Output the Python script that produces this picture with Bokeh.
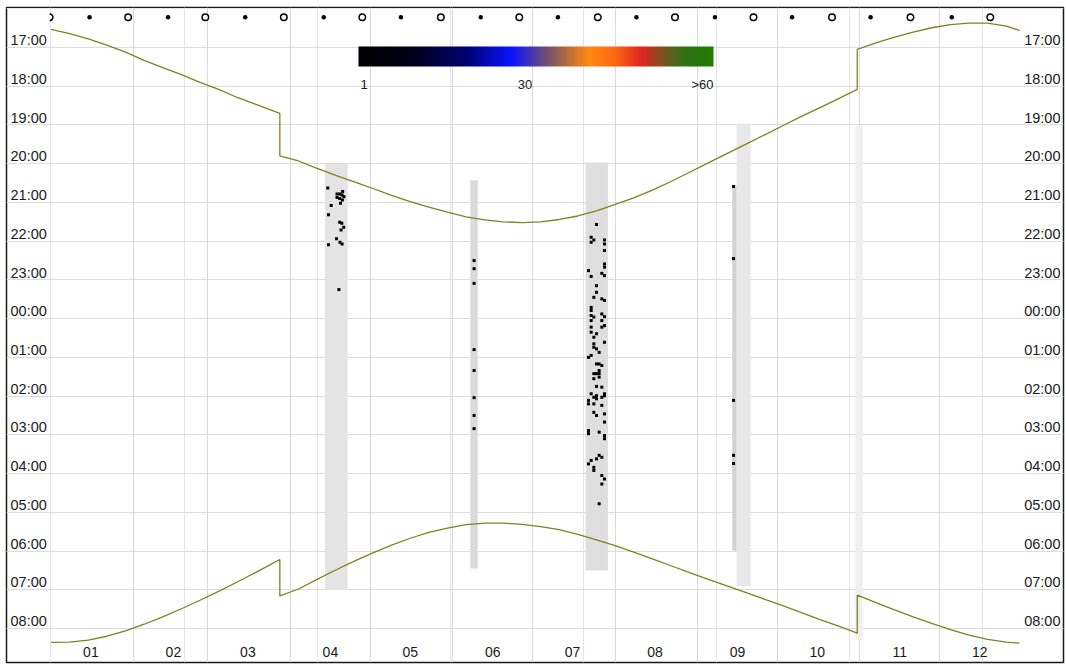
import numpy as np
from bokeh.plotting import figure
from bokeh.models import Range1d, ColorBar, LinearColorMapper, FixedTicker, Grid
from bokeh.core.properties import value
from bokeh.embed import file_html
from bokeh.resources import INLINE

# ---------------- data ----------------
# time axis: 17 = 17:00, 24 = 00:00, 32 = 08:00 (next morning)
hour_ticks = list(range(17, 33))
hour_labels = ["17:00", "18:00", "19:00", "20:00", "21:00", "22:00", "23:00", "00:00",
               "01:00", "02:00", "03:00", "04:00", "05:00", "06:00", "07:00", "08:00"]

month_labels = ["01", "02", "03", "04", "05", "06", "07", "08", "09", "10", "11", "12"]
month_start_days = [0, 31, 59, 90, 120, 151, 181, 212, 243, 273, 304, 334]

# sunset (evening) curve, day of year vs local clock time (DST jumps at day 86 and 303)
sunset_day = [0, 7, 14, 21, 28, 35, 42, 49, 56, 63, 70, 77, 86,
              86, 93, 100, 107, 114, 121, 128, 135, 142, 149, 156, 163, 170, 177, 184, 191,
              198, 205, 212, 219, 226, 233, 240, 247, 254, 261, 268, 275, 282, 289, 296, 303,
              303, 310, 317, 324, 331, 338, 345, 352, 359, 364]
sunset_t = [16.53, 16.64, 16.78, 16.94, 17.12, 17.33, 17.52, 17.70, 17.90, 18.08, 18.29, 18.47, 18.70,
            19.80, 19.93, 20.12, 20.30, 20.47, 20.64, 20.82, 20.98, 21.12, 21.25, 21.37, 21.45,
            21.50, 21.52, 21.50, 21.44, 21.35, 21.22, 21.05, 20.88, 20.68, 20.46, 20.22, 19.98,
            19.74, 19.50, 19.26, 19.02, 18.78, 18.55, 18.32, 18.08,
            17.05, 16.88, 16.73, 16.60, 16.49, 16.41, 16.37, 16.37, 16.45, 16.56]

# sunrise (morning) curve
sunrise_day = [0, 7, 14, 21, 28, 35, 42, 49, 56, 63, 70, 77, 86,
               86, 93, 100, 107, 114, 121, 128, 135, 142, 149, 156, 163, 170, 177, 184, 191,
               198, 205, 212, 219, 226, 233, 240, 247, 254, 261, 268, 275, 282, 289, 296, 303,
               303, 310, 317, 324, 331, 338, 345, 352, 359, 364]
sunrise_t = [32.36, 32.35, 32.30, 32.20, 32.06, 31.89, 31.70, 31.49, 31.27, 31.04, 30.80, 30.55, 30.22,
             31.16, 30.98, 30.73, 30.49, 30.26, 30.05, 29.85, 29.67, 29.52, 29.41, 29.32, 29.28,
             29.28, 29.31, 29.37, 29.45, 29.57, 29.71, 29.86, 30.03, 30.20, 30.38, 30.56, 30.73,
             30.90, 31.07, 31.24, 31.41, 31.59, 31.77, 31.94, 32.12,
             31.14, 31.33, 31.52, 31.70, 31.87, 32.03, 32.17, 32.28, 32.35, 32.38]

# moon phases
new_moon_days = [14.5, 44, 73, 102.5, 131.5, 161.5, 190.5, 220, 249.5, 278.5, 308, 338.5]
full_moon_days = [29, 58, 87.5, 117, 146.5, 176, 205.5, 234.5, 264, 293.5, 323, 353]
partial_moon_days = [-0.5]

# observation windows (grey bands)
obs_left = [103.0, 157.6, 200.9, 257.6, 302.3, 256.0]
obs_right = [111.5, 160.4, 209.3, 262.9, 305.0, 257.6]
obs_start = [20.00, 20.43, 19.97, 18.96, 19.03, 20.56]
obs_end = [31.00, 30.45, 30.50, 30.90, 32.30, 29.99]
obs_color = ["#e4e4e4", "#dadada", "#dedede", "#e8e8e8", "#efefef", "#d2d2d2"]

# detections (day, time)
det_day = [104, 107.5, 108.5, 109.4, 107.5, 108.5, 109.5, 108.8, 105.3, 104.3, 108.5, 109.3,
           110, 109, 107.3, 104.3, 108.6, 109.4, 108.2, 109.6, 110.1,
           159, 159, 159, 159, 159, 159, 159, 159,
           205, 203, 204, 203, 208, 208, 208, 208, 208, 202, 203, 207, 208, 205, 205, 204,
           207, 208, 203, 203, 203, 204, 203, 207, 208, 207, 208, 207, 203, 203, 205, 204,
           204, 204, 205, 206, 208, 203, 202, 205, 206, 207, 204, 205, 206, 206, 206,
           204, 205, 207, 203, 204, 202, 205, 205, 208, 208, 207, 202, 204, 207, 204, 205,
           208, 208, 202, 202, 206, 208, 208, 206, 205, 207, 203, 202, 204, 204, 207, 208,
           207, 206,
           256.5, 256.5, 256.5, 256.5, 256.5]
det_t = [20.63, 20.78, 20.78, 20.81, 20.87, 20.90, 20.94, 21.02, 21.08, 21.32, 21.51, 21.54,
         21.64, 21.71, 21.94, 22.09, 22.03, 22.07, 23.25, 20.72, 20.85,
         22.50, 22.71, 23.09, 24.80, 25.34, 26.04, 26.50, 26.84,
         21.57, 21.90, 21.97, 22.03, 21.97, 22.07, 22.24, 22.59, 22.67, 22.76, 22.91, 22.83,
         22.89, 23.15, 23.32, 23.45, 23.49, 23.53, 23.71, 23.79, 23.92, 23.96, 24.05, 23.88,
         23.95, 24.05, 24.18, 24.22, 24.22, 24.35, 24.39, 24.48, 24.65, 24.74, 24.78, 24.87,
         24.61, 24.95, 25.00, 25.17, 25.17, 25.21, 25.42, 25.42, 25.42, 25.34, 25.51,
         25.55, 25.75, 25.77, 25.94, 26.03, 26.11, 25.99, 26.07, 25.94, 25.99, 26.03, 26.20,
         26.20, 26.24, 26.42, 26.50, 26.46, 26.67, 26.89, 26.97, 26.93, 27.02, 27.10, 27.53,
         27.62, 27.58, 27.66, 27.75, 27.84, 27.92, 28.05, 28.14, 28.27, 28.78,
         20.59, 22.45, 26.11, 27.53, 27.74]

# colour scale for the legend bar
cbar_stops = [0.0, 0.15, 0.30, 0.43, 0.55, 0.65, 0.72, 0.80, 0.87, 0.93, 1.0]
cbar_colors = ["#000000", "#00001a", "#000070", "#0a14ff", "#8a5a5a", "#ff8a10", "#ff6a10",
               "#e02424", "#6a5a20", "#2a7412", "#267c00"]
cbar_low, cbar_high = 0, 64
cbar_ticks = [1, 30, 62]
cbar_tick_labels = {62: ">60"}

# ---------------- figure ----------------
FONT = "Liberation Sans"
x0, x1 = -16.72, 380.5
y_top, y_bot = 15.967, 32.878

p = figure(width=1066, height=666, output_backend="svg", toolbar_location=None,
           x_range=Range1d(x0, x1), y_range=Range1d(y_bot, y_top),
           x_axis_location=None, y_axis_location=None,
           min_border_left=6, min_border_right=3, min_border_top=7, min_border_bottom=4)
p.outline_line_color = "#1a1a1a"
p.outline_line_width = 1.5
p.background_fill_color = "white"
p.border_fill_color = "white"

p.add_layout(Grid(dimension=0, ticker=FixedTicker(ticks=month_start_days[1:]),
                  grid_line_color="#d9d9d9", grid_line_width=1))
p.add_layout(Grid(dimension=1, ticker=FixedTicker(ticks=hour_ticks),
                  grid_line_color="#dcdcdc", grid_line_width=1))

# grey observation bands
p.quad(left=obs_left, right=obs_right, top=obs_start, bottom=obs_end,
       fill_color=obs_color, line_color=None)

# sunrise / sunset
p.line(sunset_day, sunset_t, line_color="#808020", line_width=1.3)
p.line(sunrise_day, sunrise_t, line_color="#808020", line_width=1.3)

# detections
p.scatter(det_day, det_t, marker="square", size=3, fill_color="black", line_color=None)

# moon phases
moon_row = 16.22
p.scatter(new_moon_days, [moon_row] * len(new_moon_days), marker="circle", size=4.5,
          fill_color="black", line_color=None)
p.scatter(full_moon_days + partial_moon_days,
          [moon_row] * (len(full_moon_days) + len(partial_moon_days)),
          marker="circle", size=6.5, fill_color="white", line_color="black", line_width=1.5)
# the moon symbol at the year start is cut at the start of the data range
p.quad(left=[d - 4 for d in partial_moon_days], right=partial_moon_days,
       top=[moon_row - 0.15] * len(partial_moon_days),
       bottom=[moon_row + 0.15] * len(partial_moon_days),
       fill_color="white", line_color=None)

# hour labels (left and right, inside frame)
lab_y = [h - 0.19 for h in hour_ticks]
p.text(x=[x0] * len(hour_ticks), y=lab_y, text=hour_labels, x_offset=4,
       text_align="left", text_baseline="middle", text_font=value(FONT),
       text_font_size="14.5px", text_color="#1a1a1a")
p.text(x=[x1] * len(hour_ticks), y=lab_y, text=hour_labels, x_offset=-3,
       text_align="right", text_baseline="middle", text_font=value(FONT),
       text_font_size="14.5px", text_color="#1a1a1a")

# month labels
month_mid = [d + 15 for d in month_start_days]
p.text(x=month_mid, y=[32.595] * 12, text=month_labels, text_align="center",
       text_baseline="middle", text_font=value(FONT), text_font_size="14px",
       text_color="#1a1a1a")

# colour legend bar
def build_palette(n=256):
    pos = np.linspace(0, 1, n)
    rgb = np.array([[int(c[1:3], 16), int(c[3:5], 16), int(c[5:7], 16)] for c in cbar_colors])
    out = []
    for f in pos:
        r = np.interp(f, cbar_stops, rgb[:, 0])
        g = np.interp(f, cbar_stops, rgb[:, 1])
        b = np.interp(f, cbar_stops, rgb[:, 2])
        out.append("#%02x%02x%02x" % (int(r), int(g), int(b)))
    return out

mapper = LinearColorMapper(palette=build_palette(), low=cbar_low, high=cbar_high)
cb = ColorBar(color_mapper=mapper, orientation="horizontal", width=355, height=20,
              location=(352, 568), ticker=FixedTicker(ticks=cbar_ticks),
              major_label_overrides=cbar_tick_labels,
              major_tick_line_color=None, minor_tick_line_color=None,
              bar_line_color=None, background_fill_alpha=0, border_line_color=None,
              padding=0, label_standoff=10, margin=0,
              major_label_text_font=FONT, major_label_text_font_size="13px",
              major_label_text_color="#1a1a1a")
p.add_layout(cb)

open("out.html", "w").write(file_html(p, INLINE))
